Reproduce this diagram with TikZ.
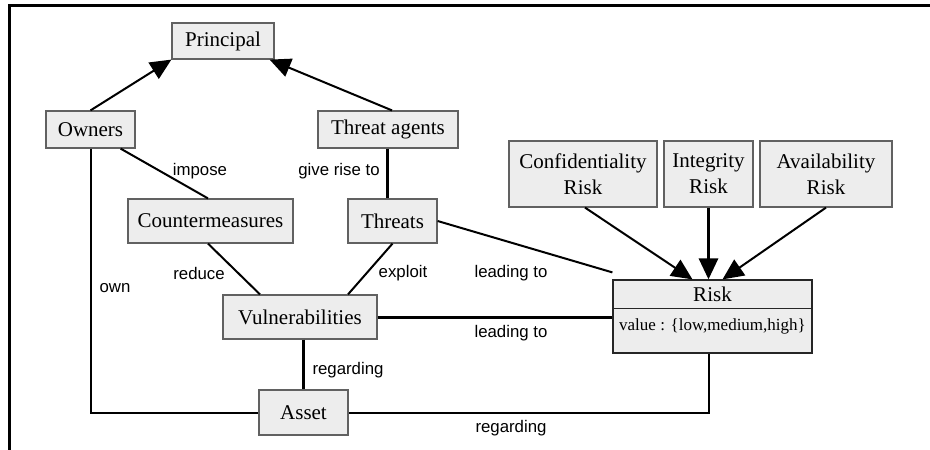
\documentclass[tikz,border=0pt]{standalone}
\usepackage{fontspec}
\setmainfont{Liberation Serif}
\newfontfamily\labelfont{Liberation Sans}
\usetikzlibrary{arrows.meta}
\begin{document}
\begin{tikzpicture}[x=1pt,y=-1pt,
  box/.style={draw=black!62, fill=black!7, line width=1.2pt, inner sep=0pt,
    align=center, font=\fontsize{21}{26}\selectfont},
  link/.style={line width=2pt},
  heavy/.style={line width=3pt},
  tip/.style={-{Triangle[length=21pt,width=19pt]}},
  lbl/.style={font=\labelfont\fontsize{16.8}{20}\selectfont, inner sep=0pt},
  frame/.style={line width=3pt}
]
\useasboundingbox (0,0) rectangle (930,450);

% outer frame (top and left edges only)
\coordinate (fa) at (9,450);
\coordinate (fb) at (9,5);
\coordinate (fc) at (930,5);
\draw[frame] (fa) -- (fb) -- (fc);

% nodes
\node[box, minimum width=102pt, minimum height=36pt] (principal) at (223,41) {Principal};
\node[box, minimum width=89pt, minimum height=37pt] (owners) at (90.5,129.5) {Owners};
\node[box, minimum width=140pt, minimum height=37pt] (agents) at (388,129.5) {Threat agents};
\node[box, minimum width=165pt, minimum height=44pt] (counter) at (210.5,221) {Countermeasures};
\node[box, minimum width=89pt, minimum height=44pt] (threats) at (392.5,221) {Threats};
\node[box, minimum width=154pt, minimum height=44pt] (vuln) at (300,317) {Vulnerabilities};
\node[box, minimum width=89pt, minimum height=45pt] (asset) at (303.5,412.5) {Asset};
\node[box, minimum width=148pt, minimum height=66pt] (conf) at (583,174) {Confidentiality\\Risk};
\node[box, minimum width=89pt, minimum height=66pt] (integ) at (708.5,174) {Integrity\\Risk};
\node[box, minimum width=132pt, minimum height=66pt] (avail) at (826,174) {Availability\\Risk};

% Risk record with a header and a value compartment
\node[box, draw=black!85, minimum width=199pt, minimum height=73pt] (risk) at (712.5,316.5) {};
\draw[draw=black!85, line width=1.2pt] (risk.north west) ++(0,29) coordinate (rdiv) -- (rdiv -| risk.east);
\node[font=\fontsize{21}{26}\selectfont, inner sep=0pt] (risktitle) at (712.5,294) {Risk};
\node[font=\fontsize{17}{20}\selectfont, inner sep=0pt] (riskvalue) at (712.5,326) {value : \{low,medium,high\}};

% generalisation arrows
\draw[link, tip] (owners.north) -- (principal.south west);
\draw[link, tip] ([xshift=4pt]agents.north) -- ([xshift=-5pt]principal.south east);
\draw[link, tip] ([xshift=2pt]conf.south) -- ([xshift=-20pt]risk.north);
\draw[heavy, tip] (integ.south) -- (integ.south |- risk.north);
\draw[link, tip] (avail.south) -- ([xshift=10pt]risk.north);

% associations
\draw[link] ([xshift=-15pt]owners.south east) -- ([xshift=-2.5pt]counter.north);
\draw[heavy] ([xshift=-0.5pt]agents.north |- agents.south) -- ([xshift=-0.5pt]agents.north |- threats.north);
\draw[link] ([xshift=-2.5pt]counter.south) -- ([xshift=-40pt]vuln.north);
\draw[link] (threats.south) -- ([xshift=48pt]vuln.north);
\draw[link] (threats.east) -- ([yshift=7pt]risk.north west);
\draw[heavy] (vuln.east) -- (vuln.east -| risk.west);
\draw[heavy] (asset.north |- vuln.south) -- (asset.north);
\draw[link] (owners.south) -- (owners.south |- asset.west) -- (asset.west);
\draw[link] ([xshift=-4pt]risk.south) -- ([xshift=-4pt]risk.south |- asset.east) -- (asset.east);

% association labels
\node[lbl] (limpose) at (200,171) {impose};
\node[lbl] (lgive) at (339,171) {give rise to};
\node[lbl] (lreduce) at (199,273) {reduce};
\node[lbl] (lexploit) at (403,273) {exploit};
\node[lbl] (lown) at (115,288) {own};
\node[lbl] (llead1) at (511,273) {leading to};
\node[lbl] (llead2) at (511,333) {leading to};
\node[lbl] (lreg1) at (348,370) {regarding};
\node[lbl] (lreg2) at (511,428) {regarding};
\end{tikzpicture}
\end{document}
